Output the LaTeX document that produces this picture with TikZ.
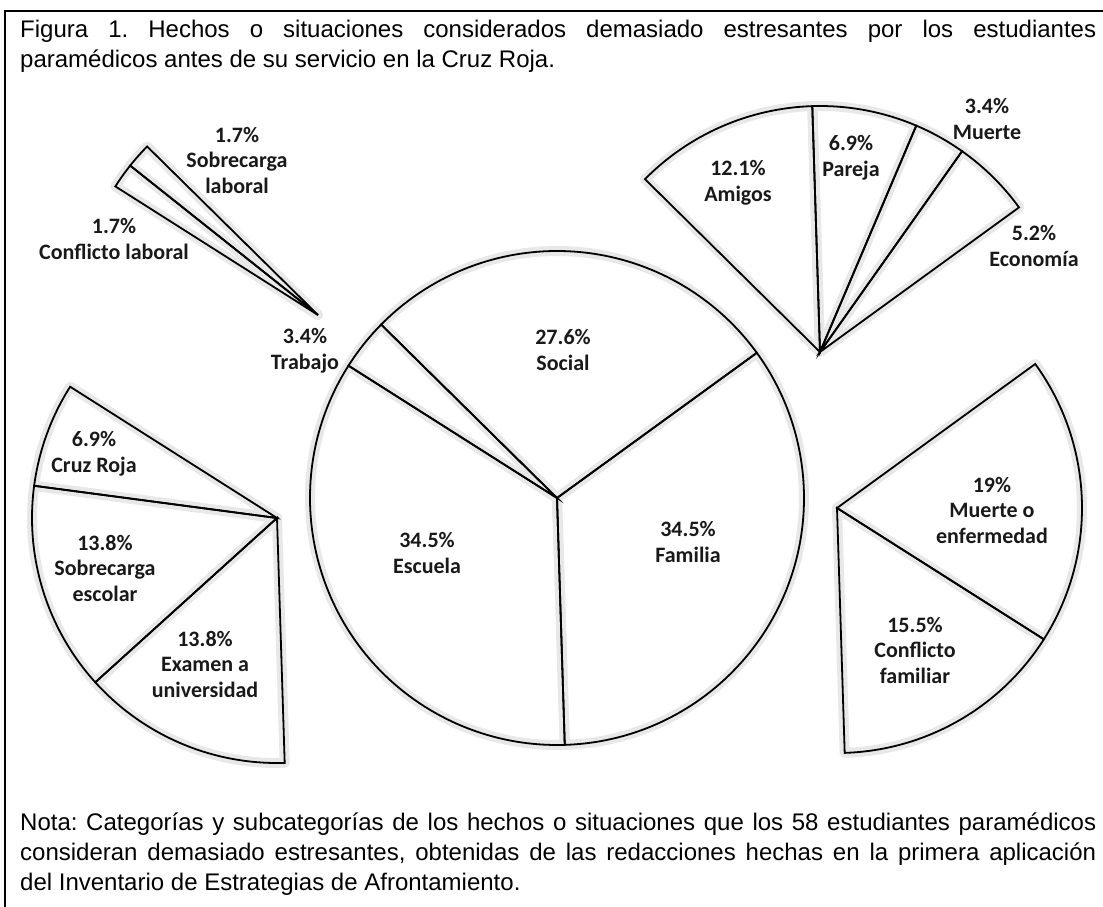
\documentclass[tikz,border=0pt]{standalone}
\usepackage{fontspec}
\setmainfont{Liberation Sans}
\newfontfamily\lblfont{Carlito}
\frenchspacing
\newcommand\halowedge[4]{\draw[halo] (#1) -- ++(#2:#4) arc[start angle=#2, end angle=#3, radius=#4] -- cycle;}
\newcommand\inkwedge[4]{\draw[wedge] (#1) -- ++(#2:#4) arc[start angle=#2, end angle=#3, radius=#4] -- cycle;}
\newcommand\allwedges[1]{%
  #1{main}{-88.2}{36}{247}
  #1{main}{36}{135.4}{247}
  #1{main}{135.4}{147.6}{247}
  #1{main}{147.6}{271.8}{247}
  #1{trab}{135.4}{141.5}{240}
  #1{trab}{141.5}{147.6}{240}
  #1{soc}{36}{54.72}{246}
  #1{soc}{54.72}{66.96}{246}
  #1{soc}{66.96}{91.8}{246}
  #1{soc}{91.8}{135.36}{246}
  #1{esc}{147.6}{172.44}{245}
  #1{esc}{172.44}{222.12}{245}
  #1{esc}{222.12}{271.8}{245}
  #1{fam}{-32.4}{36}{245}
  #1{fam}{-88.2}{-32.4}{245}}
\begin{document}
\begin{tikzpicture}[x=1pt,y=1pt,
  wedge/.style={draw=black, line width=1.8pt, line join=miter},
  halo/.style={draw=black!9, line width=10pt, line join=round},
  lab/.style={font=\lblfont\bfseries\fontsize{22}{25.5}\selectfont, text=black!90, align=center, inner sep=0pt},
  txt/.style={font=\fontsize{24}{30}\selectfont, inner sep=0pt, anchor=base west}]
\useasboundingbox (0,0) rectangle (1103,-907);
\fill[white] (0,0) rectangle (1103,-907);
\draw[line width=1.2pt] (5,-907) -- (5,-11) -- (1103,-11);
% pie centres / apexes
\coordinate (main) at (557,-498);
\coordinate (trab) at (318,-315);
\coordinate (soc) at (820,-352);
\coordinate (esc) at (277,-518);
\coordinate (fam) at (837,-508);
\allwedges\halowedge
\allwedges\inkwedge
% labels
\node[lab] (lsl) at (237,-160) {1.7\%\\Sobrecarga\\laboral};
\node[lab] (lcl) at (114,-239) {1.7\%\\Conflicto laboral};
\node[lab] (ltr) at (305,-351) {3.4\%\\Trabajo};
\node[lab] (lso) at (563,-350) {27.6\%\\Social};
\node[lab] (les) at (427,-553) {34.5\%\\Escuela};
\node[lab] (lfa) at (688,-542) {34.5\%\\Familia};
\node[lab] (lam) at (738,-183) {12.1\%\\Amigos};
\node[lab] (lpa) at (851,-158) {6.9\%\\Pareja};
\node[lab] (lmu) at (987,-119) {3.4\%\\Muerte};
\node[lab] (lec) at (1034,-246) {5.2\%\\Economía};
\node[lab] (lcr) at (94,-454) {6.9\%\\Cruz Roja};
\node[lab] (lse) at (105,-568) {13.8\%\\Sobrecarga\\escolar};
\node[lab] (lex) at (205,-664) {13.8\%\\Examen a\\universidad};
\node[lab] (lme) at (992,-510) {19\%\\Muerte o\\enfermedad};
\node[lab] (lcf) at (915,-650) {15.5\%\\Conflicto\\familiar};
% title and note
\node[txt] (t1) at (20,-38) {\makebox[1076pt][s]{Figura 1. Hechos o situaciones considerados demasiado estresantes por los estudiantes}};
\node[txt] (t2) at (20,-67) {paramédicos antes de su servicio en la Cruz Roja.};
\node[txt] (n1) at (20,-830) {\makebox[1076pt][s]{Nota: Categorías y subcategorías de los hechos o situaciones que los 58 estudiantes paramédicos}};
\node[txt] (n2) at (20,-860) {\makebox[1076pt][s]{consideran demasiado estresantes, obtenidas de las redacciones hechas en la primera aplicación}};
\node[txt] (n3) at (20,-890) {del Inventario de Estrategias de Afrontamiento.};
\end{tikzpicture}
\end{document}
